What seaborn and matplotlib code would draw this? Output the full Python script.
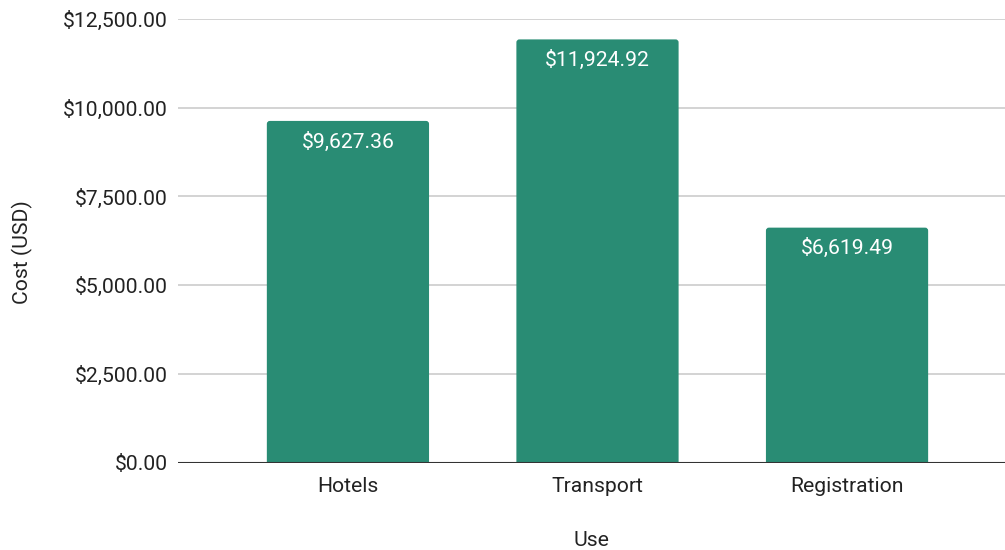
import matplotlib
matplotlib.use("Agg")
import matplotlib.pyplot as plt
from matplotlib.patches import FancyBboxPatch
import seaborn as sns
import pandas as pd

categories = ["Hotels", "Transport", "Registration"]
costs = [9627.36, 11924.92, 6619.49]
y_ticks = [0, 2500, 5000, 7500, 10000, 12500]

sns.set_theme(style="white")
plt.rcParams["font.family"] = ["Roboto", "DejaVu Sans"]

df = pd.DataFrame({"Use": categories, "Cost (USD)": costs})

W, H = 1005, 550
fig = plt.figure(figsize=(W / 100, H / 100), dpi=100)
ax = fig.add_axes([178 / W, (H - 462.5) / H, 1 - 178 / W, (462.5 - 19) / H])

BAR = "#298C74"
sns.barplot(data=df, x="Use", y="Cost (USD)", color=BAR, saturation=1,
            width=0.65, ax=ax, zorder=3, linewidth=0)

ax.set_xlim(-0.681, 2.633)
ax.set_ylim(0, 12500)

# round the top corners of the bars (about 3 px)
xpp = (2.633 + 0.681) / (W - 178)
ypp = 12500 / (462.5 - 19)
r_px = 3.0
for p in list(ax.patches):
    x0, w, h = p.get_x(), p.get_width(), p.get_height()
    fb = FancyBboxPatch((x0, -r_px * ypp), w, h + r_px * ypp,
                        boxstyle=f"round,pad=0,rounding_size={r_px * xpp}",
                        mutation_aspect=ypp / xpp, facecolor=BAR,
                        edgecolor="none", zorder=3, clip_on=True)
    ax.add_patch(fb)
    p.set_visible(False)

ax.set_yticks(y_ticks)
ax.set_yticklabels([f"${v:,.2f}" for v in y_ticks])
for s in ax.spines.values():
    s.set_visible(False)
ax.yaxis.grid(True, color="#cccccc", linewidth=1.2, zorder=0)
ax.set_axisbelow(True)
ax.axhline(0, color="#333333", linewidth=1.5, zorder=4)
ax.tick_params(axis="both", length=0, labelsize=15.2, colors="#222222")
ax.tick_params(axis="y", pad=7.5)
ax.tick_params(axis="x", pad=10.5)

ax.set_xlabel("Use", fontsize=15.2, color="#222222", labelpad=25)
ax.set_ylabel("")
fig.text(22 / W, 1 - 252 / H, "Cost (USD)", rotation=90, ha="center", va="center",
         fontsize=15.2, color="#222222")

for container in ax.containers:
    ax.bar_label(container, labels=[f"${v:,.2f}" for v in costs], label_type="edge",
                 padding=-22, color="white", fontsize=15.2, zorder=5)

fig.savefig("out.png", dpi=100)
